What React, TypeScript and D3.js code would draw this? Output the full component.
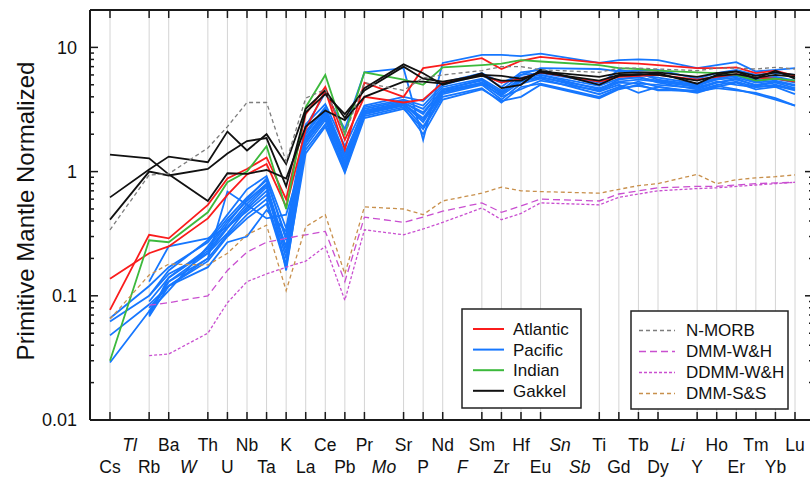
import React from "react";
import * as d3 from "d3";

// element order along the x axis (italic ones have no data and no grid line)
const elements = ["Cs", "Tl", "Rb", "Ba", "W", "Th", "U", "Nb", "Ta", "K", "La", "Ce", "Pb", "Pr", "Mo", "Sr", "P", "Nd", "F", "Sm", "Zr", "Hf", "Eu", "Sn", "Sb", "Ti", "Gd", "Tb", "Dy", "Li", "Y", "Ho", "Er", "Tm", "Yb", "Lu"];
const italicElements = ["Tl", "W", "Mo", "F", "Sn", "Sb", "Li"];
const plotted = elements.filter((e) => !italicElements.includes(e));

// values in plotted order: Cs Rb Ba Th U Nb Ta K La Ce Pb Pr Sr P Nd Sm Zr Hf Eu Ti Gd Tb Dy Y Ho Er Tm Yb Lu
const atlantic1 = [0.137, 0.22, 0.25, 0.42, 0.65, 0.95, 1.15, 0.52, 2.2, 4.5, 1.5, 5.2, 4.0, 6.8, 7.2, 8.2, 6.7, 7.8, 8.4, 7.5, 7.5, 7.4, 7.2, 6.8, 6.8, 6.9, 6.2, 6.5, 5.9];
const atlantic2 = [0.077, 0.31, 0.29, 0.54, 0.88, 1.05, 1.3, 0.6, 2.9, 4.8, 1.8, 4.0, 3.6, 3.8, 5.2, 6.0, 5.2, 5.6, 6.3, 5.3, 5.8, 5.9, 6.0, 5.5, 5.8, 6.1, 5.7, 5.6, 5.3];

const pacific1 = [0.066, 0.12, 0.17, 0.27, 0.42, 0.62, 0.85, 0.3, 2.3, 4.3, 2.2, 6.3, 6.8, 1.8, 7.5, 8.7, 8.7, 8.5, 8.9, 7.5, 7.9, 8.0, 7.9, 6.8, 7.2, 7.6, 6.4, 6.6, 6.8];
const pacific2 = [0.062, 0.1, 0.15, 0.22, 0.35, 0.52, 0.75, 0.22, 2.0, 3.2, 1.3, 3.3, 3.8, 3.4, 5.0, 6.0, 4.8, 6.3, 6.6, 5.0, 6.6, 6.2, 5.5, 5.0, 5.6, 5.9, 5.3, 5.6, 5.2];
const pacific3 = [0.048, 0.085, 0.12, 0.2, 0.31, 0.45, 0.6, 0.18, 1.8, 2.9, 1.15, 3.1, 3.6, 2.9, 4.6, 5.4, 4.2, 5.6, 6.0, 4.6, 5.5, 5.8, 5.2, 4.6, 5.2, 5.6, 4.9, 5.2, 4.7];
const pacific4 = [0.029, 0.075, 0.11, 0.25, 0.4, 0.58, 0.8, 0.16, 1.6, 2.6, 1.0, 2.9, 3.4, 2.3, 4.2, 5.0, 3.8, 5.1, 5.6, 4.2, 4.8, 5.3, 4.8, 4.3, 4.8, 5.2, 4.6, 4.8, 4.2];
const pacific5 = [null, 0.13, 0.25, 0.29, 0.36, 0.48, 0.65, 0.25, 1.9, 3.0, 1.2, 3.0, 3.5, 2.6, 4.4, 5.2, 4.4, 5.4, 5.8, 4.4, 5.0, 4.3, 4.8, 4.4, 4.7, 4.5, 4.3, 3.9, 3.4];
const pacific6 = [null, 0.072, 0.13, 0.2, 0.69, 0.54, 0.42, 0.45, 1.5, 2.4, 1.05, 2.8, 3.3, 2.0, 3.8, 4.6, 3.7, 4.0, 5.0, 3.9, 4.6, 5.0, 4.5, 4.5, 5.0, 5.3, 4.8, 5.0, 4.6];
const pacific7 = [null, 0.068, 0.12, 0.17, 0.27, 0.3, 0.49, 0.33, 1.7, 2.7, 1.1, 2.9, 3.5, 2.7, 4.5, 5.2, 4.0, 4.6, 5.4, 4.5, 5.2, 5.1, 5.0, 4.7, 5.3, 5.0, 4.8, 4.9, 4.5];
const pacific8 = [null, 0.07, 0.14, 0.24, 0.38, 0.6, 0.88, 0.28, 2.1, 3.3, 1.4, 3.2, 3.7, 3.2, 4.8, 5.6, 4.5, 6.0, 6.2, 5.2, 5.9, 6.0, 5.7, 5.1, 5.7, 6.0, 5.5, 5.8, 5.4];
const pacific9 = [null, 0.075, 0.13, 0.22, 0.32, 0.5, 0.7, 0.2, 1.7, 2.8, 1.2, 3.0, 3.5, 2.5, 4.3, 5.1, 4.1, 5.3, 5.7, 4.7, 5.3, 5.5, 5.3, 4.8, 5.2, 5.5, 5.0, 5.3, 4.9];
const pacific10 = [null, 0.1, 0.16, 0.28, 0.45, 0.72, 0.92, 0.35, 2.4, 3.5, 1.6, 3.4, 4.0, 3.7, 5.2, 6.2, 5.2, 6.0, 6.8, 6.7, 6.4, 6.5, 6.6, 5.6, 6.2, 6.6, 6.0, 6.2, 6.0];
const pacific11 = [null, 0.08, 0.12, 0.19, 0.3, 0.42, 0.55, 0.17, 1.4, 2.3, 0.98, 2.7, 3.2, 2.2, 4.0, 4.7, 3.6, 4.8, 5.1, 4.0, 4.7, 4.9, 4.6, 4.4, 4.9, 4.6, 4.2, 3.8, 3.4];
const pacific12 = [null, 0.09, 0.14, 0.23, 0.36, 0.55, 0.78, 0.24, 1.8, 3.1, 1.3, 3.0, 3.6, 3.0, 4.6, 5.5, 4.3, 5.7, 6.0, 4.9, 5.6, 5.7, 5.4, 4.9, 5.5, 5.7, 5.2, 5.4, 5.0];

const indian1 = [0.03, 0.28, 0.27, 0.47, 0.82, 1.0, 1.6, 0.5, 3.3, 6.0, 2.0, 6.3, 5.5, 5.0, 6.9, 7.2, 7.4, 7.9, 7.7, 7.2, 6.8, 6.7, 6.5, 6.3, 6.2, 6.0, 5.4, 5.6, 5.4];

const gakkel1 = [1.37, 1.28, 0.95, 0.58, 0.97, 0.96, 1.03, 0.88, 2.3, 3.1, 2.6, 4.0, 5.3, 5.3, 5.1, 5.9, 5.4, 5.4, 6.4, 5.8, 6.2, 6.3, 6.3, 5.8, 6.2, 6.4, 5.9, 6.3, 6.0];
const gakkel2 = [0.62, 1.04, 1.32, 1.19, 2.1, 1.48, 2.0, 1.15, 3.2, 4.5, 2.7, 4.7, 7.3, 6.2, 5.0, 6.2, 4.7, 5.0, 6.6, 5.0, 5.9, 6.0, 6.2, 5.1, 6.0, 6.4, 5.6, 6.5, 5.6];
const gakkel3 = [0.41, 1.0, 0.93, 1.05, 1.4, 1.76, 1.86, 0.76, 3.0, 4.2, 2.9, 4.5, 7.0, 5.6, 5.3, 6.0, 5.9, 5.6, 6.3, 5.4, 6.0, 6.1, 6.0, 5.4, 5.9, 6.1, 5.7, 6.0, 5.8];

const nMorb = [0.34, 0.94, 0.96, 1.55, 2.3, 3.6, 3.6, 1.2, 3.9, 4.6, 2.0, 5.2, 4.5, 5.7, 6.0, 6.5, 7.0, 7.0, 6.6, 6.3, 6.8, 6.8, 6.7, 6.5, 6.8, 6.8, 6.7, 6.9, 6.7];
const dmmWH = [null, 0.084, 0.088, 0.1, 0.16, 0.225, 0.27, 0.29, 0.31, 0.33, 0.13, 0.43, 0.39, 0.43, 0.48, 0.56, 0.47, 0.53, 0.6, 0.58, 0.66, 0.7, 0.74, 0.76, 0.76, 0.78, 0.8, 0.81, 0.82];
const ddmmWH = [null, 0.033, 0.034, 0.05, 0.088, 0.13, 0.15, 0.17, 0.19, 0.25, 0.092, 0.34, 0.31, 0.345, 0.39, 0.51, 0.41, 0.46, 0.56, 0.54, 0.62, 0.66, 0.7, 0.73, 0.74, 0.76, 0.78, 0.8, 0.82];
const dmmSS = [0.065, 0.147, 0.18, 0.177, 0.22, 0.31, 0.37, 0.11, 0.36, 0.45, 0.15, 0.52, 0.5, 0.45, 0.58, 0.67, 0.75, 0.7, 0.69, 0.67, 0.72, 0.77, 0.8, 0.95, 0.8, 0.86, 0.89, 0.91, 0.94];

const groups = [
  { name: "Atlantic", color: "#fa1c1c", lines: [atlantic1, atlantic2] },
  { name: "Pacific", color: "#1677ff", lines: [pacific1, pacific2, pacific3, pacific4, pacific5, pacific6, pacific7, pacific8, pacific9, pacific10, pacific11, pacific12] },
  { name: "Indian", color: "#3cb93c", lines: [indian1] },
  { name: "Gakkel", color: "#111111", lines: [gakkel1, gakkel2, gakkel3] },
];

const references = [
  { name: "N-MORB", color: "#7d7d7d", dash: "4,3", values: nMorb },
  { name: "DMM-W&H", color: "#c94fd0", dash: "7,4", values: dmmWH },
  { name: "DDMM-W&H", color: "#c94fd0", dash: "3,2", values: ddmmWH },
  { name: "DMM-S&S", color: "#c8904c", dash: "4,3", values: dmmSS },
];

const FONT = "'Liberation Sans', Arial, Helvetica, sans-serif";

export default function App() {
  const left = 90, right = 813, top = 10, bottom = 420;

  const x = d3.scalePoint<string>().domain(elements).range([110, 795]);
  const y = d3.scaleLog().domain([0.01, 20]).range([bottom, top]);

  const line = d3
    .line<number | null>()
    .defined((d) => d != null)
    .x((_, i) => x(plotted[i]) as number)
    .y((d) => y(d as number));

  const yTicks = y.ticks().filter((t) => t < 20);
  const isMajor = (t: number) => Math.abs(Math.log10(t) - Math.round(Math.log10(t))) < 1e-6;

  // drawing order: Pacific under the others
  const drawOrder = [groups[1], groups[0], groups[2], groups[3]];

  return (
    <svg width={810} height={477} style={{ position: "absolute", left: 0, top: 0, background: "#fff" }} fontFamily={FONT}>
      {/* grid lines */}
      {plotted.map((e) => (
        <line key={"g" + e} x1={x(e)} x2={x(e)} y1={top} y2={bottom} stroke="#d4d4d4" strokeWidth={1} />
      ))}

      {/* data lines */}
      {drawOrder.map((g) =>
        g.lines.map((vals, i) => (
          <path key={g.name + i} d={line(vals) || ""} fill="none" stroke={g.color} strokeWidth={1.8} strokeLinejoin="miter" />
        ))
      )}
      {references.map((r) => (
        <path key={r.name} d={line(r.values) || ""} fill="none" stroke={r.color} strokeWidth={1.3} strokeDasharray={r.dash} />
      ))}

      {/* frame */}
      <line x1={left} x2={right} y1={top} y2={top} stroke="#1a1a1a" strokeWidth={2} />
      <line x1={left} x2={right} y1={bottom} y2={bottom} stroke="#1a1a1a" strokeWidth={2} />
      <line x1={left} x2={left} y1={top} y2={bottom} stroke="#1a1a1a" strokeWidth={2} />
      <line x1={right} x2={right} y1={top} y2={bottom} stroke="#1a1a1a" strokeWidth={2} />

      {/* x ticks top and bottom */}
      {plotted.map((e) => (
        <g key={"t" + e}>
          <line x1={x(e)} x2={x(e)} y1={top} y2={top + 8} stroke="#1a1a1a" strokeWidth={1.5} />
          <line x1={x(e)} x2={x(e)} y1={bottom} y2={bottom - 8} stroke="#1a1a1a" strokeWidth={1.5} />
        </g>
      ))}

      {/* y ticks */}
      {yTicks.map((t) => {
        const len = isMajor(t) ? 8 : 4;
        return (
          <g key={"y" + t}>
            <line x1={left} x2={left + len} y1={y(t)} y2={y(t)} stroke="#1a1a1a" strokeWidth={1.5} />
            <line x1={right} x2={right - len} y1={y(t)} y2={y(t)} stroke="#1a1a1a" strokeWidth={1.5} />
          </g>
        );
      })}
      {yTicks.filter(isMajor).map((t) => (
        <text key={"yl" + t} x={77} y={y(t)} dy="0.35em" textAnchor="end" fontSize={18} fill="#111">
          {d3.format("~g")(t)}
        </text>
      ))}

      {/* x labels, two staggered rows */}
      {elements.map((e, i) => (
        <text
          key={"xl" + e}
          x={x(e)}
          y={i % 2 === 0 ? 473 : 451}
          textAnchor="middle"
          fontSize={17.5}
          fontStyle={italicElements.includes(e) ? "italic" : "normal"}
          fill="#111"
        >
          {e}
        </text>
      ))}

      <text transform="translate(34,211) rotate(-90)" textAnchor="middle" fontSize={24} fill="#111">
        Primitive Mantle Normalized
      </text>

      {/* legend: regions */}
      <rect x={462} y={309} width={119} height={99} fill="#fff" stroke="#222" strokeWidth={1.5} />
      {groups.map((g, i) => (
        <g key={"lg" + g.name} transform={`translate(0,${329 + i * 20.6})`}>
          <line x1={473} x2={504} y1={0} y2={0} stroke={g.color} strokeWidth={2} />
          <text x={513} y={0} dy="0.35em" fontSize={17} fill="#111">{g.name}</text>
        </g>
      ))}

      {/* legend: reference compositions */}
      <rect x={631} y={311} width={157} height={98} fill="#fff" stroke="#222" strokeWidth={1.5} />
      {references.map((r, i) => (
        <g key={"lr" + r.name} transform={`translate(0,${330.5 + i * 21})`}>
          <line x1={639} x2={675} y1={0} y2={0} stroke={r.color} strokeWidth={1.3} strokeDasharray={r.dash} />
          <text x={686} y={0} dy="0.35em" fontSize={17} fill="#111">{r.name}</text>
        </g>
      ))}
    </svg>
  );
}
